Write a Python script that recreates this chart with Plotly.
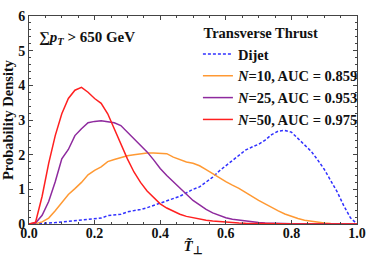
import plotly.graph_objects as go

x_vals = [round(0.02 * i, 2) for i in range(51)]

dijet = [0, 0.005, 0.01, 0.02, 0.04, 0.06, 0.08, 0.10, 0.13, 0.15,
         0.16, 0.17, 0.24, 0.26, 0.28, 0.35, 0.38, 0.42, 0.47, 0.54,
         0.60, 0.66, 0.73, 0.80, 0.90, 1.00, 1.07, 1.22, 1.35, 1.53,
         1.68, 1.85, 2.00, 2.13, 2.22, 2.30, 2.42, 2.58, 2.68, 2.70,
         2.65, 2.47, 2.30, 2.10, 1.85, 1.58, 1.25, 0.92, 0.52, 0.18, 0]

n10 = [0, 0.01, 0.06, 0.17, 0.38, 0.62, 0.85, 1.02, 1.20, 1.42,
       1.55, 1.65, 1.80, 1.86, 1.92, 1.97, 2.00, 2.03, 2.05, 2.05,
       2.04, 2.03, 1.93, 1.86, 1.79, 1.75, 1.68, 1.57, 1.45, 1.33,
       1.22, 1.12, 1.03, 0.91, 0.79, 0.68, 0.58, 0.47, 0.38, 0.29,
       0.22, 0.16, 0.11, 0.08, 0.05, 0.03, 0.015, 0.008, 0.004, 0.002, 0]

n25 = [0, 0.03, 0.25, 0.65, 1.22, 1.88, 2.15, 2.55, 2.75, 2.92,
       2.96, 2.98, 2.95, 2.92, 2.84, 2.65, 2.48, 2.30, 2.08, 1.85,
       1.60, 1.40, 1.22, 1.03, 0.84, 0.68, 0.55, 0.42, 0.32, 0.24,
       0.18, 0.14, 0.11, 0.08, 0.06, 0.04, 0.03, 0.02, 0.015, 0.01,
       0.008, 0.006, 0.004, 0.003, 0.002, 0.001, 0.001, 0, 0, 0, 0]

n50 = [0, 0.05, 0.80, 1.75, 2.55, 3.18, 3.62, 3.86, 3.94, 3.80,
       3.62, 3.48, 3.18, 2.75, 2.28, 1.88, 1.50, 1.20, 0.95, 0.75,
       0.58, 0.46, 0.36, 0.28, 0.22, 0.18, 0.14, 0.11, 0.09, 0.07,
       0.05, 0.04, 0.03, 0.02, 0.015, 0.01, 0.008, 0.006, 0.004, 0.003,
       0.002, 0.001, 0.001, 0, 0, 0, 0, 0, 0, 0, 0]

series_names = ["<b>Dijet</b>",
                "<b><i>N</i>=10, AUC = 0.859</b>",
                "<b><i>N</i>=25, AUC = 0.953</b>",
                "<b><i>N</i>=50, AUC = 0.975</b>"]
series_vals = [dijet, n10, n25, n50]
series_colors = ["#3030FF", "#FF9933", "#8E2A9E", "#FF2020"]
series_dash = ["3px,2px", "solid", "solid", "solid"]

x_ticks = [0.0, 0.2, 0.4, 0.6, 0.8, 1.0]
x_tick_text = ["0.0", "0.2", "0.4", "0.6", "0.8", "1.0"]
y_ticks = [0, 1, 2, 3, 4, 5, 6]

SERIF = "Liberation Serif"

fig = go.Figure()
for name, vals, col, dash in zip(series_names, series_vals, series_colors, series_dash):
    fig.add_trace(go.Scatter(
        x=x_vals, y=vals, mode="lines", name=name,
        line=dict(color=col, width=1.5, dash=dash)))

axis_common = dict(
    showline=True, linecolor="#444", linewidth=1, mirror="ticks",
    ticks="inside", ticklen=4, tickcolor="#444", tickwidth=1,
    showgrid=False, zeroline=False, automargin=False,
    tickfont=dict(family=SERIF, size=14, color="#111", weight="bold"),
)

fig.update_xaxes(
    range=[0, 1], tickvals=x_ticks, ticktext=x_tick_text,
    ticklabeloverflow="allow", ticklabelstandoff=-4,
    minor=dict(dtick=0.05, ticks="inside", ticklen=2, tickcolor="#444", showgrid=False),
    title=dict(text="<b><i>T&#771;</i><sub>⊥</sub></b>", font=dict(family=SERIF, size=15, color="#111"),
               standoff=0),
    **axis_common)
fig.update_yaxes(
    range=[0, 6], tickvals=y_ticks,
    minor=dict(dtick=0.2, ticks="inside", ticklen=2, tickcolor="#444", showgrid=False),
    title=dict(text="<b>Probability Density</b>", font=dict(family=SERIF, size=14.5, color="#111"),
               standoff=1),
    **axis_common)

fig.add_annotation(
    xref="paper", yref="paper", x=0.024, y=0.894, xanchor="left", yanchor="middle",
    text="<b>∑<i>p<sub>T</sub></i> > 650 GeV</b>", showarrow=False,
    font=dict(family=SERIF, size=15, color="#111"))

fig.update_layout(
    width=374, height=272,
    margin=dict(l=29, r=10, t=16, b=48),
    paper_bgcolor="white", plot_bgcolor="white",
    legend=dict(
        x=0.515, y=0.985, xanchor="left", yanchor="top",
        title=dict(text="<b>&nbsp;Transverse Thrust</b>", font=dict(family=SERIF, size=14.5, color="#111")),
        font=dict(family=SERIF, size=14.5, color="#111"),
        bgcolor="rgba(0,0,0,0)", tracegroupgap=0, itemwidth=30,
    ),
)

fig.write_html("out.html", config={"displayModeBar": False},
               post_script="document.body.style.margin='0';document.body.style.overflow='hidden';")
